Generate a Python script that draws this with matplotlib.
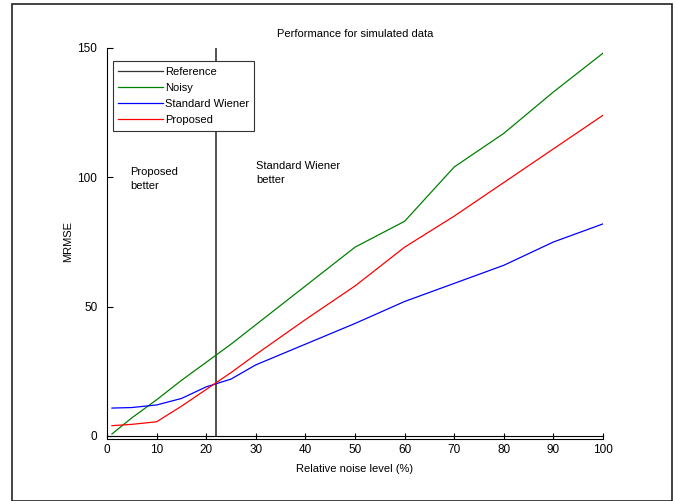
import matplotlib
matplotlib.use("Agg")
import matplotlib.pyplot as plt
from matplotlib.patches import Rectangle

# data
noise = [1, 5, 10, 15, 20, 25, 30, 40, 50, 60, 70, 80, 90, 100]
noisy = [0.8, 7, 14, 21.5, 28.5, 35.5, 43, 58, 73, 83, 104, 117, 133, 148]
wiener = [10.8, 11, 12, 14.5, 19, 22, 27.5, 35.5, 43.5, 52, 59, 66, 75, 82]
proposed = [4, 4.5, 5.5, 11.5, 18, 24.5, 31.5, 45, 58, 73, 85, 98, 111, 124]
ref_x = 22
y_ticks = [0, 50, 100, 150]
x_ticks = [0, 10, 20, 30, 40, 50, 60, 70, 80, 90, 100]

plt.rcParams['font.family'] = ['Liberation Sans', 'DejaVu Sans']

fig = plt.figure(figsize=(6.77, 5.01), dpi=100)
ax = fig.add_axes([107/677, 1-436/501, (603-107)/677, (436-48)/501])

# frame round the whole figure
fig.patches.append(Rectangle((12/677, 0.0), (672-12)/677, 1-4/501,
                             transform=fig.transFigure, fill=False,
                             edgecolor='#222222', linewidth=1.2))

ax.plot([ref_x, ref_x], [0, 150], color='#333333', lw=1.2, label='Reference')
ax.plot(noise, noisy, color='#008000', lw=0.9, label='Noisy')
ax.plot(noise, wiener, color='#0000ff', lw=0.9, label='Standard Wiener')
ax.plot(noise, proposed, color='#ff0000', lw=0.9, label='Proposed')

ax.set_xlim(0, 100)
ax.set_ylim(0, 150)
ax.set_xticks(x_ticks)
ax.set_yticks(y_ticks)
ax.tick_params(direction='in', length=4, width=0.8, labelsize=8.5)
ax.tick_params(axis='y', pad=7)
ax.spines['top'].set_visible(False)
ax.spines['right'].set_visible(False)
ax.spines['bottom'].set_position(('outward', 2))
ax.axhline(0, color='black', lw=0.8, clip_on=False)

ax.set_title("Performance for simulated data", fontsize=8, pad=8)
ax.set_xlabel("Relative noise level (%)", fontsize=8, labelpad=6)
ax.set_ylabel("MRMSE", fontsize=8, labelpad=3)

ax.text(4.6, 104, "Proposed\nbetter", fontsize=8, va='top', linespacing=1.5)
ax.text(30, 106.5, "Standard Wiener\nbetter", fontsize=8, va='top', linespacing=1.5)

leg = ax.legend(loc='upper left', fontsize=8, handlelength=4.0,
                handletextpad=0.2, labelspacing=0.55, borderpad=0.5,
                fancybox=False, edgecolor='#333333', framealpha=1,
                bbox_to_anchor=(0.0, 0.98))
for h in leg.get_lines():
    h.set_linewidth(0.9)
leg.get_frame().set_linewidth(0.8)

fig.savefig("out.png", dpi=100)
